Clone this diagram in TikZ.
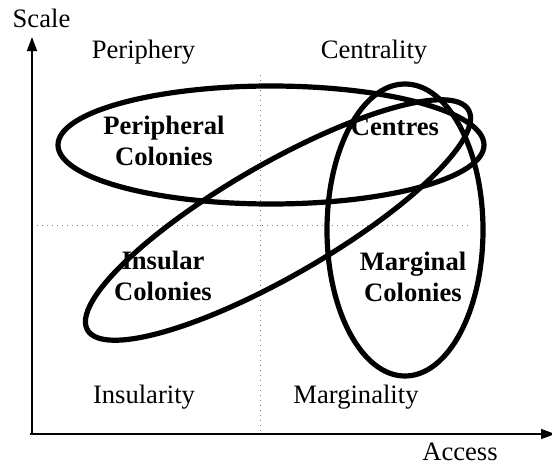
\documentclass[tikz,border=0pt]{standalone}
\usepackage{fontspec}
\setmainfont{Liberation Serif}
\usetikzlibrary{arrows.meta}
\begin{document}
\begin{tikzpicture}[x=0.5pt,y=-0.5pt,
  lbl/.style={font=\fontsize{13.3}{15}\selectfont, anchor=base, inner sep=0pt, align=center},
  blbl/.style={lbl, font=\fontsize{13.3}{15.3}\selectfont\bfseries},
  axisline/.style={line width=0.75pt, -{Triangle[length=7pt,width=5pt]}},
  gridline/.style={gray, line width=0.5pt, dotted},
  ring/.style={line width=2.6pt}]
\useasboundingbox (0,0) rectangle (552,466);
% grid
\coordinate (vtop) at (260,75);
\coordinate (vbot) at (260,434);
\coordinate (hleft) at (32,225);
\coordinate (hright) at (468,225);
\draw[gridline] (vtop) -- (vbot);
\draw[gridline] (hleft) -- (hright);
% axes
\coordinate (O) at (32,434);
\coordinate (Ox) at (30,434);
\coordinate (ytop) at (32,37);
\coordinate (xend) at (555,434);
\draw[axisline] (O) -- (ytop);
\draw[axisline] (Ox) -- (xend);
% ellipses
\coordinate (ph) at (271,145);
\coordinate (mg) at (405,230);
\coordinate (ins) at (278,220);
\draw[ring] (ph) ellipse [x radius=213, y radius=59];
\draw[ring] (mg) ellipse [x radius=78, y radius=146];
\draw[ring, rotate around={30:(ins)}] (ins) ellipse [x radius=220, y radius=56];
% labels
\node[lbl] (scale) at (41.5,27) {Scale};
\node[lbl] (periphery) at (143.5,58) {Periphery};
\node[lbl] (centrality) at (374,58) {Centrality};
\node[lbl] (insularity) at (144,403) {Insularity};
\node[lbl] (marginality) at (356,403) {Marginality};
\node[lbl] (access) at (460,460) {Access};
\node[blbl] (pc) at (164,165) {Peripheral\\Colonies};
\node[blbl] (ce) at (395,135) {Centres};
\node[blbl] (ic) at (163,300) {Insular\\Colonies};
\node[blbl] (mc) at (413,301) {Marginal\\Colonies};
\end{tikzpicture}
\end{document}
